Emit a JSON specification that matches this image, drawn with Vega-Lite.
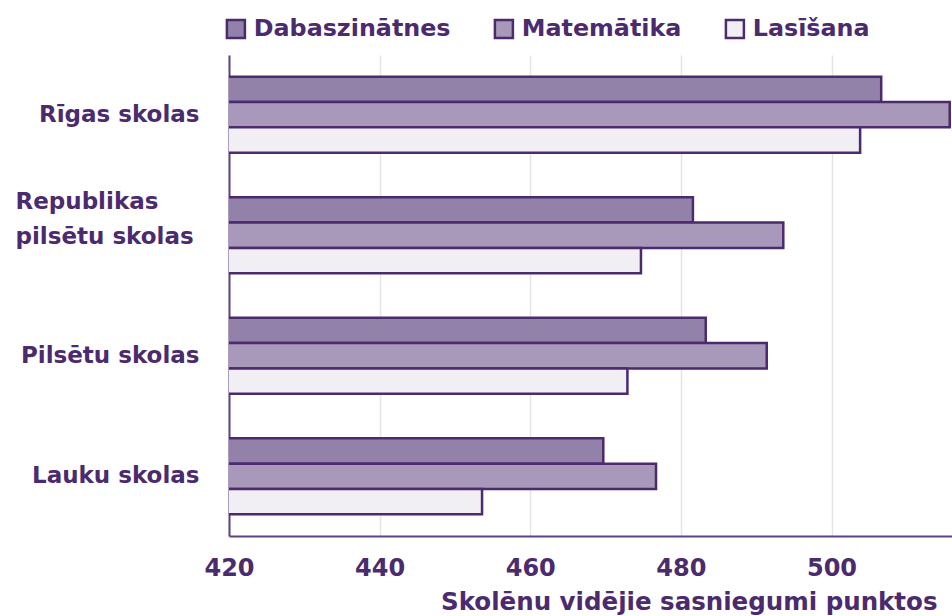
{
  "$schema": "https://vega.github.io/schema/vega-lite/v6.json",
  "width": 723,
  "height": 481,
  "autosize": {"type": "none"},
  "padding": {"left": 229, "top": 55, "right": 0, "bottom": 80},
  "background": "white",
  "config": {
    "view": {"stroke": null},
    "font": "DejaVu Sans",
    "axis": {"labelFont": "DejaVu Sans", "titleFont": "DejaVu Sans"},
    "legend": {"labelFont": "DejaVu Sans"}
  },
  "data": {
    "values": [
      {"skola": "Rīgas skolas", "joma": "Dabaszinātnes", "punkti": 506.6},
      {"skola": "Rīgas skolas", "joma": "Matemātika", "punkti": 515.7},
      {"skola": "Rīgas skolas", "joma": "Lasīšana", "punkti": 503.8},
      {"skola": "Republikas pilsētu skolas", "joma": "Dabaszinātnes", "punkti": 481.6},
      {"skola": "Republikas pilsētu skolas", "joma": "Matemātika", "punkti": 493.6},
      {"skola": "Republikas pilsētu skolas", "joma": "Lasīšana", "punkti": 474.7},
      {"skola": "Pilsētu skolas", "joma": "Dabaszinātnes", "punkti": 483.3},
      {"skola": "Pilsētu skolas", "joma": "Matemātika", "punkti": 491.4},
      {"skola": "Pilsētu skolas", "joma": "Lasīšana", "punkti": 472.9},
      {"skola": "Lauku skolas", "joma": "Dabaszinātnes", "punkti": 469.7},
      {"skola": "Lauku skolas", "joma": "Matemātika", "punkti": 476.7},
      {"skola": "Lauku skolas", "joma": "Lasīšana", "punkti": 453.6}
    ]
  },
  "mark": {"type": "bar", "stroke": "#4b2a6e", "strokeWidth": 2.5, "clip": true},
  "encoding": {
    "y": {
      "field": "skola",
      "type": "nominal",
      "sort": ["Rīgas skolas", "Republikas pilsētu skolas", "Pilsētu skolas", "Lauku skolas"],
      "scale": {"paddingInner": 0.37, "paddingOuter": 0.18},
      "axis": {
        "title": null,
        "domainColor": "#5e4382",
        "domainWidth": 2,
        "ticks": false,
        "grid": false,
        "labelPadding": {"condition": {"test": "datum.value == 'Republikas pilsētu skolas'", "value": 214}, "value": 30},
        "labelAlign": {"condition": {"test": "datum.value == 'Republikas pilsētu skolas'", "value": "left"}, "value": "right"},
        "labelOffset": {"condition": {"test": "datum.value == 'Republikas pilsētu skolas'", "value": -33}, "value": 0},
        "labelFontSize": 23,
        "labelFontWeight": "bold",
        "labelColor": "#4b2a6e",
        "labelLineHeight": 35,
        "labelLimit": 260,
        "labelExpr": "datum.value == 'Republikas pilsētu skolas' ? ['Republikas', 'pilsētu skolas'] : datum.value"
      }
    },
    "yOffset": {
      "field": "joma",
      "type": "nominal",
      "sort": ["Dabaszinātnes", "Matemātika", "Lasīšana"],
      "scale": {"paddingInner": 0, "paddingOuter": 0}
    },
    "x": {
      "field": "punkti",
      "type": "quantitative",
      "scale": {"domain": [420, 516], "zero": false, "nice": false},
      "axis": {
        "values": [420, 440, 460, 480, 500],
        "title": "Skolēnu vidējie sasniegumi punktos",
        "titleFontSize": 24.5,
        "titleFontWeight": "bold",
        "titleColor": "#4b2a6e",
        "titleAnchor": "end",
        "titleAlign": "right",
        "titleX": 708,
        "titleY": 73,
        "titleBaseline": "alphabetic",
        "domainColor": "#5e4382",
        "domainWidth": 2,
        "ticks": false,
        "grid": true,
        "gridColor": "#e6e2ea",
        "gridWidth": 1.5,
        "labelFlush": false,
        "labelPadding": 20,
        "labelFontSize": 24,
        "labelFontWeight": "bold",
        "labelColor": "#4b2a6e"
      }
    },
    "fill": {
      "field": "joma",
      "type": "nominal",
      "sort": ["Dabaszinātnes", "Matemātika", "Lasīšana"],
      "scale": {
        "domain": ["Dabaszinātnes", "Matemātika", "Lasīšana"],
        "range": ["#9282aa", "#a898b9", "#f1eef4"]
      },
      "legend": {
        "title": null,
        "orient": "none",
        "direction": "horizontal",
        "legendX": -5,
        "legendY": -38,
        "symbolType": "square",
        "symbolSize": 324,
        "symbolStrokeColor": "#4b2a6e",
        "symbolStrokeWidth": 2.5,
        "labelFontSize": 23.8,
        "labelFontWeight": "bold",
        "labelColor": "#4b2a6e",
        "labelOffset": 6,
        "columnPadding": 38,
        "labelLimit": 300
      }
    }
  }
}
